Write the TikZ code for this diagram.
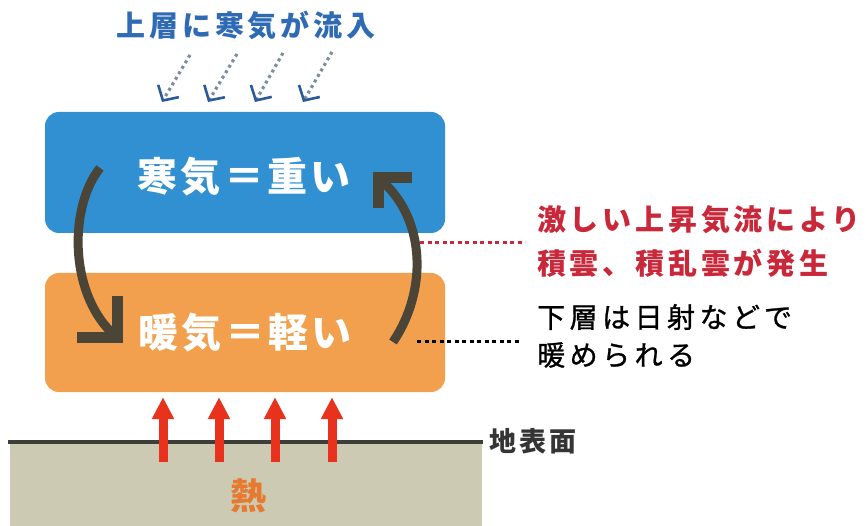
\documentclass[tikz,border=0pt]{standalone}
\usepackage{fontspec}
\setmainfont{Noto Sans CJK JP}
\newfontfamily\jpT[LetterSpace=13]{Noto Sans CJK JP}
\newfontfamily\jpB[LetterSpace=8]{Noto Sans CJK JP}
\newfontfamily\jpR[LetterSpace=13]{Noto Sans CJK JP}
\newfontfamily\jpK[LetterSpace=16,FakeBold=1]{Noto Sans CJK JP}
\newfontfamily\jpG[LetterSpace=11]{Noto Sans CJK JP}
\usetikzlibrary{arrows.meta}
\definecolor{coldblue}{HTML}{3090D2}
\definecolor{warmorange}{HTML}{F2A04E}
\definecolor{titleblue}{HTML}{2F6AB4}
\definecolor{curvecol}{HTML}{4A4537}
\definecolor{heatred}{HTML}{E8321E}
\definecolor{notered}{HTML}{C9283A}
\definecolor{groundfill}{HTML}{CDCAB3}
\definecolor{groundline}{HTML}{3E3E38}
\definecolor{dotgray}{HTML}{7E8DA4}
\definecolor{headblue}{HTML}{2B5A99}
\definecolor{heatorange}{HTML}{E67A30}
\definecolor{surfgray}{HTML}{353535}
\tikzset{
  layerbox/.style={draw=none, rounded corners=14pt, minimum width=400pt, inner sep=0pt},
  boxtext/.style={text=white, inner sep=0pt, font=\jpB\bfseries\fontsize{40}{44}\selectfont},
  titletext/.style={text=titleblue, inner sep=0pt, font=\jpT\bfseries\fontsize{29}{33}\selectfont},
  redtext/.style={text=notered, inner sep=0pt, anchor=west, font=\jpR\bfseries\fontsize{29}{33}\selectfont},
  blacktext/.style={text=black, inner sep=0pt, anchor=west, font=\jpK\fontsize{28}{32}\selectfont},
  surftext/.style={text=surfgray, inner sep=0pt, font=\jpG\bfseries\fontsize{27}{30}\selectfont},
  heattext/.style={text=heatorange, inner sep=0pt, font=\bfseries\fontsize{36}{40}\selectfont},
  coldflow/.style={dotgray, line width=3.2pt, dash pattern=on 3pt off 3.4pt,
    -{Straight Barb[length=11pt, width=24pt, line width=2.6pt, color=headblue]}},
  curvearrow/.style={curvecol, line width=9pt},
  chevron/.style={curvecol, line width=11pt, line join=miter},
  notelink/.style={line width=3pt, dash pattern=on 4pt off 3.5pt},
  heatarrow/.style={heatred, line width=9pt, -{Triangle[length=22pt, width=21pt]}},
  groundbox/.style={draw=none, fill=groundfill, inner sep=0pt, minimum width=472pt, minimum height=84pt},
  groundedge/.style={groundline, line width=4pt}
}
\begin{document}
\begin{tikzpicture}[x=1pt,y=-1pt]
\useasboundingbox (0,0) rectangle (867,526);

% title and cold inflow arrows
\node[titletext] (title) at (246,25) {上層に寒気が流入};
\coordinate (ct1) at (190,55); \coordinate (ch1) at (162,102);
\coordinate (ct2) at (237,54); \coordinate (ch2) at (208,102);
\coordinate (ct3) at (283,53); \coordinate (ch3) at (255,102);
\coordinate (ct4) at (332,52); \coordinate (ch4) at (303,102);
\draw[coldflow] (ct1) -- (ch1);
\draw[coldflow] (ct2) -- (ch2);
\draw[coldflow] (ct3) -- (ch3);
\draw[coldflow] (ct4) -- (ch4);

% layers
\node[layerbox, fill=coldblue, minimum height=121pt] (cold) at (245,172.5) {};
\node[boxtext] (coldtxt) at (244,177) {寒気＝重い};
\node[layerbox, fill=warmorange, minimum height=119pt] (warm) at (245,332.5) {};
\node[boxtext] (warmtxt) at (245,333) {暖気＝軽い};

% circulation arrows
\coordinate (ls) at (100,168); \coordinate (le) at (112,333);
\draw[curvearrow] (ls) .. controls (70,205) and (68,290) .. (le);
\draw[chevron] (117,296) -- (117,338) -- (77,338);
\coordinate (rs) at (393,342); \coordinate (re) at (383,182);
\draw[curvearrow] (rs) .. controls (428,290) and (425,220) .. (re);
\draw[chevron] (412,177.5) -- (378.5,177.5) -- (378.5,208);

% notes
\node[redtext] (red1) at (537,220) {激しい上昇気流により};
\node[redtext] (red2) at (537,263) {積雲、積乱雲が発生};
\node[blacktext] (blk1) at (537,317) {下層は日射などで};
\node[blacktext] (blk2) at (537,355) {暖められる};
\coordinate (rc) at (420,243);
\draw[notelink, notered, shorten >=12pt] (rc) -- (rc -| red1.west);
\coordinate (bc) at (417,342);
\draw[notelink, black, shorten >=17pt] (bc) -- (bc -| blk1.west);

% ground
\node[groundbox] (ground) at (246,484) {};
\node[surftext] (surf) at (533,441) {地表面};
\draw[groundedge, shorten >=6pt] ([xshift=-2pt]ground.north west) -- (surf.west |- ground.north);
\node[heattext] (heat) at (248,496) {熱};

% heat arrows
\coordinate (h1) at (163,462); \coordinate (h2) at (219,462);
\coordinate (h3) at (275,462); \coordinate (h4) at (332,462);
\draw[heatarrow, shorten >=5pt] (h1) -- (h1 |- warm.south);
\draw[heatarrow, shorten >=5pt] (h2) -- (h2 |- warm.south);
\draw[heatarrow, shorten >=5pt] (h3) -- (h3 |- warm.south);
\draw[heatarrow, shorten >=5pt] (h4) -- (h4 |- warm.south);
\end{tikzpicture}
\end{document}
